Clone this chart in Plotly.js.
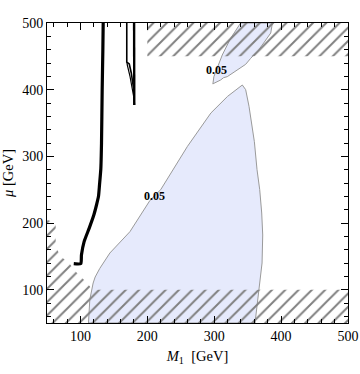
<!DOCTYPE html>
<html>
<head>
<meta charset="utf-8">
<script src="https://cdn.plot.ly/plotly-3.0.1.min.js"></script>
<style>
body { margin: 0; background: white; }
#plot { width: 360px; height: 374px; }
</style>
</head>
<body>
<div id="plot"></div>
<script>
// big region below 0.05
var lobeM1 = [112, 114, 119, 122, 129, 144, 174, 204, 220, 260, 295, 320, 342, 347, 352, 356, 360, 364, 368, 371, 372.5, 371.5, 368, 364, 361, 112];
var lobeMu = [50, 85, 110, 119, 132, 155, 187, 234, 250, 315, 365, 390, 407, 400, 375, 350, 322, 280, 250, 215, 182, 140, 107, 77, 50, 50];

// small region near the top
var tipM1 = [339.5, 324.5, 312, 299.5, 298, 299.5, 309.5, 314, 319.5, 326, 332, 339.5, 347, 354.5, 366.5, 384.5, 387, 339.5];
var tipMu = [500, 477, 452, 419.5, 408.5, 409.5, 414.5, 418, 419.5, 424, 427, 432, 438, 447, 459.5, 485, 500, 500];

// excluded regions (hatched)
var topBandM1 = [200, 500, 500, 200, 200];
var topBandMu = [450, 450, 500, 500, 450];
var lowM1 = [50, 500, 500, 118, 110, 93, 83, 70, 63, 63, 50, 50];
var lowMu = [50, 50, 100, 100, 110, 127, 140, 150, 165, 200, 205, 50];

// black contours
var thickM1 = [90, 100.5, 101.5, 105.5, 113, 120, 124, 127, 128.5, 130.5, 131.5, 132.5, 133.5, 134];
var thickMu = [139, 139, 152, 172, 192, 212, 227, 240, 257, 282, 320, 400, 460, 500];
var thinAM1 = [169.25, 169.25, 173, 176, 179.75, 180.5];
var thinAMu = [500, 441.5, 438.5, 425, 399.5, 377];
var thinBM1 = [180.2, 180.5, 180.5];
var thinBMu = [500, 444.5, 377];
var thinCM1 = [169.5, 170, 174, 178, 180.5];
var thinCMu = [441, 437, 420.5, 399.5, 384.5];

// labels
var labM1 = [303.5, 210.5];
var labMu = [430, 240];
var labText = ['0.05', '0.05'];

var blueFill = '#e6eafc';
var hatch = {shape: '/', size: 9.4, solidity: 0.21, fgcolor: '#808080', bgcolor: 'rgba(0,0,0,0)'};

var data = [
    {x: lobeM1, y: lobeMu, mode: 'lines', fill: 'toself', fillcolor: blueFill, line: {color: '#9a9a9a', width: 1}, hoverinfo: 'skip'},
    {x: tipM1, y: tipMu, mode: 'lines', fill: 'toself', fillcolor: blueFill, line: {color: '#9a9a9a', width: 1}, hoverinfo: 'skip'},
    {x: topBandM1, y: topBandMu, mode: 'lines', fill: 'toself', fillcolor: 'rgba(0,0,0,0)', fillpattern: hatch, line: {width: 0}, hoverinfo: 'skip'},
    {x: lowM1, y: lowMu, mode: 'lines', fill: 'toself', fillcolor: 'rgba(0,0,0,0)', fillpattern: hatch, line: {width: 0}, hoverinfo: 'skip'},
    {x: thickM1, y: thickMu, mode: 'lines', line: {color: 'black', width: 3.2, shape: 'spline', smoothing: 0.5}},
    {x: thinAM1, y: thinAMu, mode: 'lines', line: {color: 'black', width: 1.6}},
    {x: thinBM1, y: thinBMu, mode: 'lines', line: {color: 'black', width: 2.4}},
    {x: thinCM1, y: thinCMu, mode: 'lines', line: {color: 'black', width: 1.2}}
];

var annotations = [];
for (var i = 0; i < labText.length; i++) {
    annotations.push({
        x: labM1[i], y: labMu[i], text: '<b>' + labText[i] + '</b>',
        showarrow: false,
        font: {family: 'Liberation Serif', size: 12, color: 'black'}
    });
}

var axisStyle = {
    range: [50, 500],
    dtick: 100,
    tick0: 0,
    ticks: 'inside',
    ticklen: 7,
    tickcolor: 'black',
    showline: true,
    linecolor: 'black',
    linewidth: 1,
    mirror: 'allticks',
    showgrid: false,
    zeroline: false,
    minor: {dtick: 20, ticks: 'inside', ticklen: 4, tickcolor: 'black', showgrid: false},
    tickfont: {family: 'Liberation Serif', size: 14, color: 'black'}
};

var layout = {
    width: 360,
    height: 374,
    margin: {l: 47, r: 12, t: 23, b: 51},
    paper_bgcolor: 'white',
    plot_bgcolor: 'white',
    showlegend: false,
    xaxis: Object.assign({}, axisStyle, {
        title: {text: '<i>M</i><sub>1</sub>  [GeV]', font: {family: 'Liberation Serif', size: 14.5, color: 'black'}, standoff: 8}
    }),
    yaxis: Object.assign({}, axisStyle, {
        title: {text: '<i>μ</i> [GeV]', font: {family: 'Liberation Serif', size: 14.5, color: 'black'}, standoff: 6}
    }),
    annotations: annotations
};

Plotly.newPlot('plot', data, layout, {displayModeBar: false, staticPlot: true});
</script>
</body>
</html>
